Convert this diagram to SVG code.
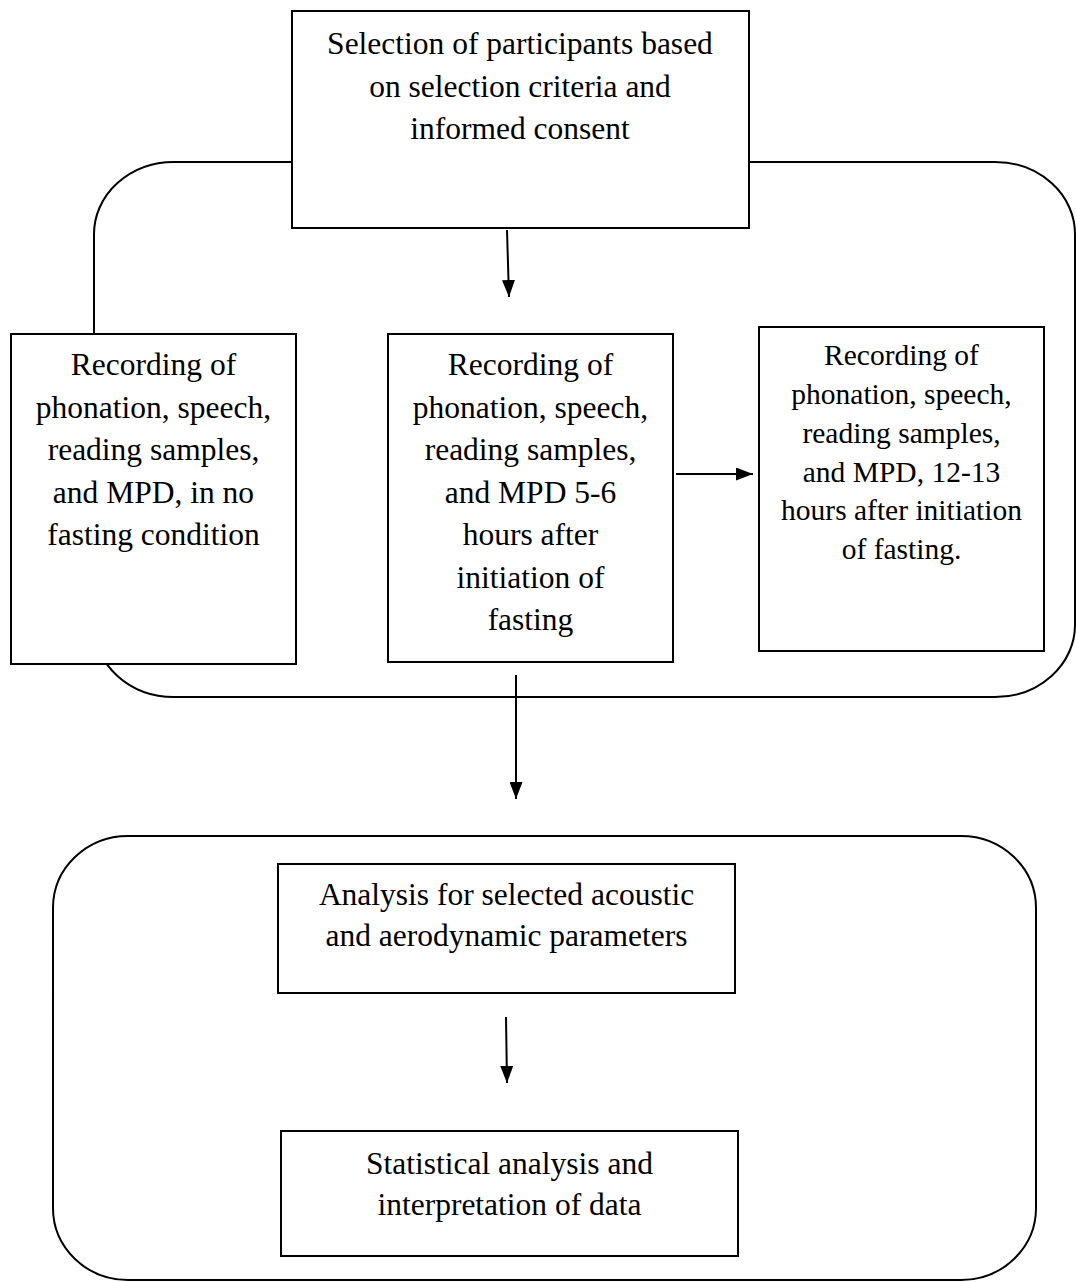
<svg xmlns="http://www.w3.org/2000/svg" width="1076" height="1282" viewBox="0 0 1076 1282">
<style>
.box{fill:#fff;stroke:#000;stroke-width:2}
.cont{fill:none;stroke:#000;stroke-width:2}
.t{font-family:"Liberation Serif","Times New Roman",serif;font-size:31.5px;fill:#000;text-anchor:middle}
.ts{font-family:"Liberation Serif","Times New Roman",serif;font-size:29.5px;fill:#000;text-anchor:middle}
.ln{stroke:#000;stroke-width:2;fill:none;marker-end:url(#ah)}
</style>
<defs>
<marker id="ah" markerUnits="userSpaceOnUse" markerWidth="17" markerHeight="13" refX="17" refY="6.5" orient="auto" viewBox="0 0 17 13">
<path d="M0,0 L17,6.5 L0,13 Z" fill="#000"/>
</marker>
</defs>
<rect width="1076" height="1282" fill="#fff"/>
<g id="containers">
<rect id="container-top" class="cont" x="94" y="162" width="981" height="535" rx="80" ry="72"/>
<rect id="container-bottom" class="cont" x="53" y="836" width="983" height="444" rx="75" ry="72"/>
</g>
<g id="connectors">
<line class="ln" x1="507" y1="230" x2="509" y2="297"/>
<line class="ln" x1="676" y1="474" x2="753" y2="474"/>
<line class="ln" x1="516" y1="675" x2="516" y2="799"/>
<line class="ln" x1="506" y1="1017" x2="507" y2="1083"/>
</g>
<g id="node-selection">
<rect class="box" x="292" y="11" width="457" height="217"/>
<text class="t" x="520" y="54">Selection of participants based</text>
<text class="t" x="520" y="96.5">on selection criteria and</text>
<text class="t" x="520" y="139">informed consent</text>
</g>
<g id="node-nofasting">
<rect class="box" x="11" y="334" width="285" height="330"/>
<text class="t" x="153.5" y="375">Recording of</text>
<text class="t" x="153.5" y="417.5">phonation, speech,</text>
<text class="t" x="153.5" y="460">reading samples,</text>
<text class="t" x="153.5" y="502.5">and MPD, in no</text>
<text class="t" x="153.5" y="545">fasting condition</text>
</g>
<g id="node-56h">
<rect class="box" x="388" y="334" width="285" height="328"/>
<text class="t" x="530.5" y="375">Recording of</text>
<text class="t" x="530.5" y="417.5">phonation, speech,</text>
<text class="t" x="530.5" y="460">reading samples,</text>
<text class="t" x="530.5" y="502.5">and MPD 5-6</text>
<text class="t" x="530.5" y="545">hours after</text>
<text class="t" x="530.5" y="587.5">initiation of</text>
<text class="t" x="530.5" y="630">fasting</text>
</g>
<g id="node-1213h">
<rect class="box" x="759" y="327" width="285" height="324"/>
<text class="ts" x="901.5" y="365">Recording of</text>
<text class="ts" x="901.5" y="404">phonation, speech,</text>
<text class="ts" x="901.5" y="443">reading samples,</text>
<text class="ts" x="901.5" y="482">and MPD, 12-13</text>
<text class="ts" x="901.5" y="520">hours after initiation</text>
<text class="ts" x="901.5" y="559">of fasting.</text>
</g>
<g id="node-analysis">
<rect class="box" x="278" y="864" width="457" height="129"/>
<text class="t" x="506.5" y="905">Analysis for selected acoustic</text>
<text class="t" x="506.5" y="946">and aerodynamic parameters</text>
</g>
<g id="node-statistics">
<rect class="box" x="281" y="1131" width="457" height="125"/>
<text class="t" x="509.5" y="1174">Statistical analysis and</text>
<text class="t" x="509.5" y="1215">interpretation of data</text>
</g>
</svg>
